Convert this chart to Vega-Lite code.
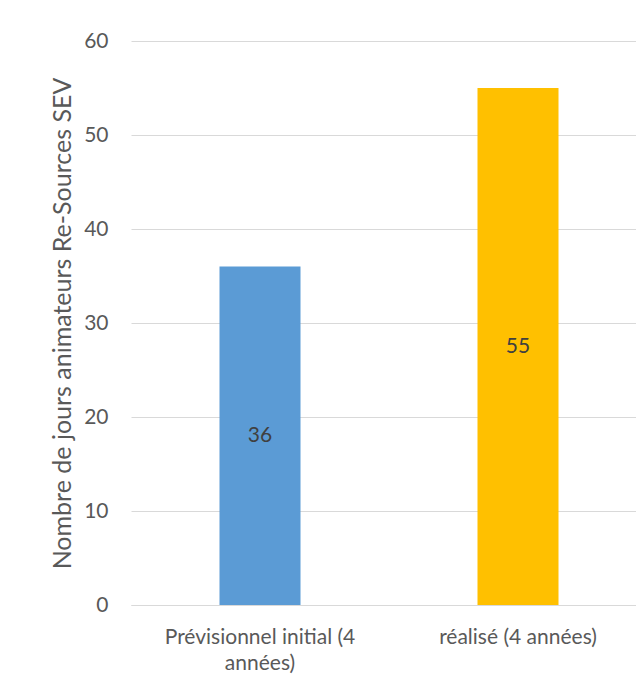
{
  "$schema": "https://vega.github.io/schema/vega-lite/v6.json",
  "autosize": "none",
  "width": 516,
  "height": 564,
  "padding": {"left": 131, "top": 41, "right": 0, "bottom": 73},
  "background": "white",
  "data": {"values": [
    {"cat": "Prévisionnel initial (4 années)", "jours": 36, "color": "#5b9bd5"},
    {"cat": "réalisé (4 années)", "jours": 55, "color": "#ffc000"}
  ]},
  "config": {
    "font": "Lato",
    "view": {"stroke": null},
    "axis": {"labelFont": "Lato", "titleFont": "Lato", "labelColor": "#595959", "titleColor": "#595959"}
  },
  "encoding": {
    "x": {
      "field": "cat", "type": "nominal", "sort": null,
      "scale": {"paddingInner": 0.686, "paddingOuter": 0.343},
      "axis": {
        "title": null, "labelAngle": 0, "ticks": false, "domain": true, "domainColor": "#d9d9d9", "domainWidth": 1,
        "labelFontSize": 21, "labelPadding": 21, "labelLineHeight": 26, "labelLimit": 400,
        "labelExpr": "datum.label == 'Prévisionnel initial (4 années)' ? ['Prévisionnel initial (4', 'années)'] : datum.label"
      }
    },
    "y": {
      "field": "jours", "type": "quantitative",
      "scale": {"domain": [0, 60]},
      "axis": {
        "title": "Nombre de jours animateurs Re-Sources SEV", "titleFontSize": 25, "titleFontWeight": "normal",
        "titlePadding": 8, "values": [0, 10, 20, 30, 40, 50, 60],
        "ticks": false, "domain": false, "grid": true, "gridColor": "#d9d9d9", "gridWidth": 1,
        "labelFontSize": 21, "labelPadding": 23
      }
    }
  },
  "layer": [
    {"mark": {"type": "bar"}, "encoding": {"color": {"field": "color", "type": "nominal", "scale": null}}},
    {"transform": [{"calculate": "datum.jours / 2", "as": "mid"}],
     "mark": {"type": "text", "fontSize": 21, "color": "#404040", "font": "Lato", "baseline": "middle"},
     "encoding": {"y": {"field": "mid", "type": "quantitative"}, "text": {"field": "jours", "type": "quantitative"}}}
  ]
}
